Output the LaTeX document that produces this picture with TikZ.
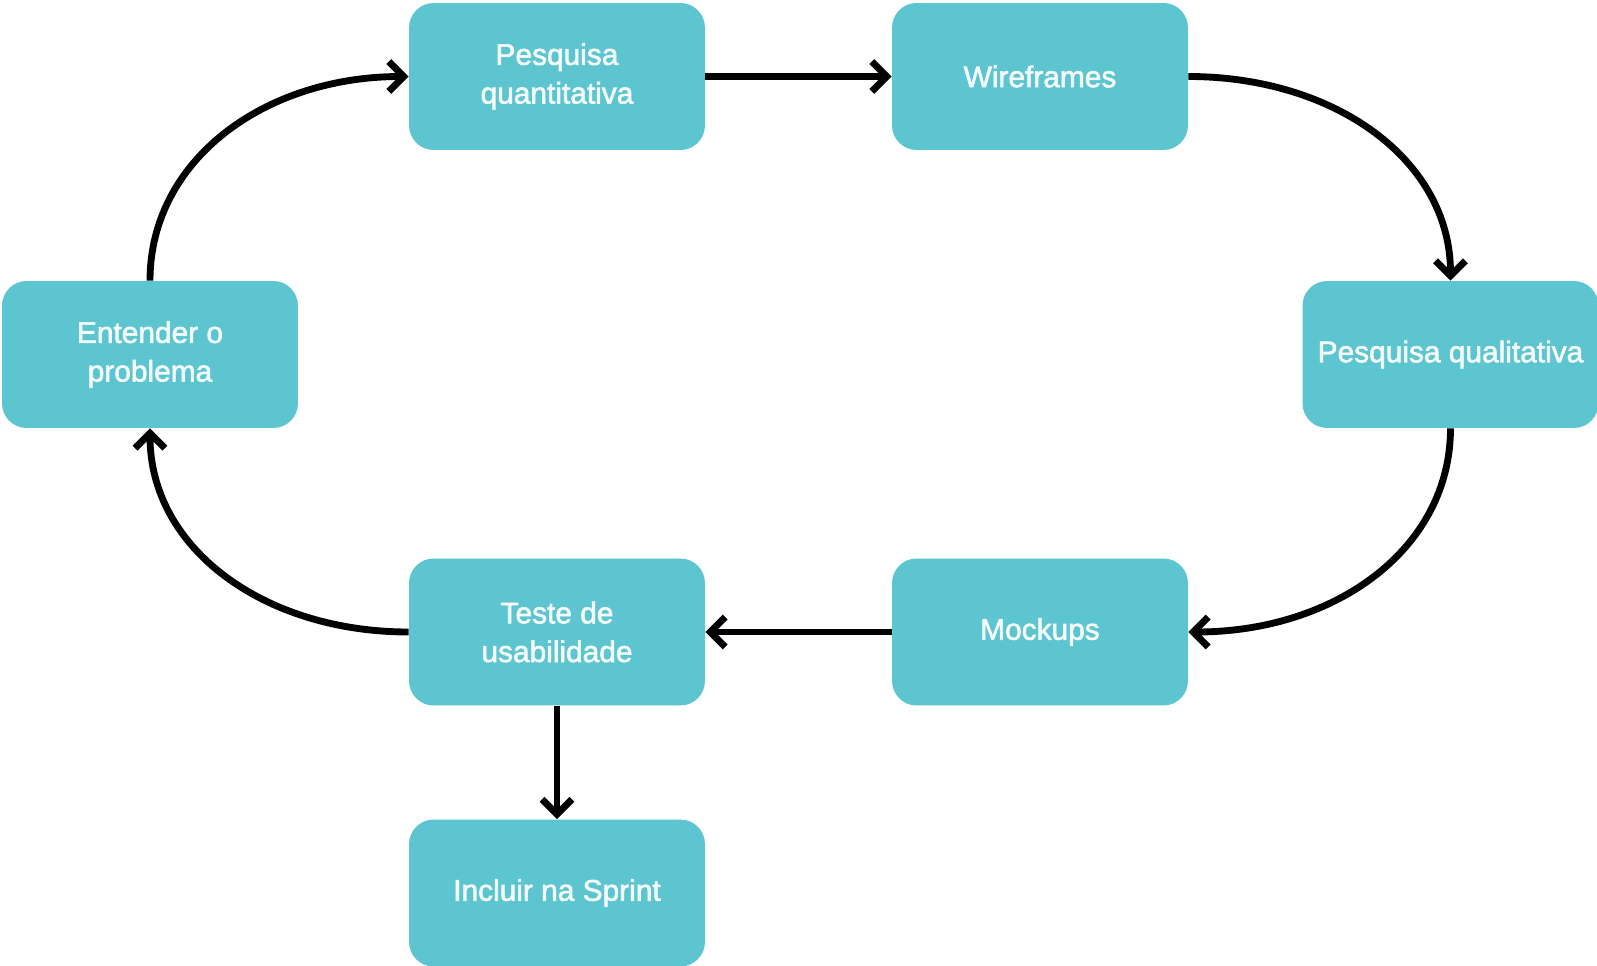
\documentclass[tikz,border=0pt]{standalone}
\usepackage{fontspec}
\setmainfont{Liberation Sans}[FakeBold=2]
\usetikzlibrary{arrows.meta}
\definecolor{boxteal}{HTML}{5CC5CF}
\definecolor{labelwhite}{HTML}{F4FBFC}
\tikzset{
  stepbox/.style={rectangle, rounded corners=14pt, fill=boxteal, draw=none,
    minimum width=5.92cm, minimum height=2.94cm, inner sep=0pt,
    text=labelwhite, align=center, font=\fontsize{17}{22}\selectfont},
  flow/.style={line width=3.9pt, draw=black,
    -{Straight Barb[length=8.5pt,width=17pt,line width=3.9pt]}}
}
\begin{document}
\begin{tikzpicture}[x=0.02cm, y=-0.02cm]
  \path[use as bounding box] (0,0) rectangle (1597,966);
  % process steps
  \node[stepbox] (pqn)  at (557,76.5)   {Pesquisa\\quantitativa};
  \node[stepbox] (wire) at (1040,76.5)  {Wireframes};
  \node[stepbox] (ent)  at (150,354.5)  {Entender o\\problema};
  \node[stepbox] (pql)  at (1450.5,354.5) {Pesquisa qualitativa};
  \node[stepbox] (mock) at (1040,632)   {Mockups};
  \node[stepbox] (test) at (557,632)    {Teste de\\usabilidade};
  \node[stepbox] (incl) at (557,893)    {Incluir na Sprint};
  % loop connectors
  \draw[flow] (ent.north) .. controls +(0,2.4cm) and +(-2.9cm,0) .. (pqn.west);
  \draw[flow] (pqn.east) -- (wire.west);
  \draw[flow] (wire.east) .. controls +(2.95cm,0) and +(0,2.4cm) .. (pql.north);
  \draw[flow] (pql.south) .. controls +(0,-2.4cm) and +(2.95cm,0) .. (mock.east);
  \draw[flow] (mock.west) -- (test.east);
  \draw[flow] (test.west) .. controls +(-2.9cm,0) and +(0,-2.4cm) .. (ent.south);
  \draw[flow] (test.south) -- (incl.north);
\end{tikzpicture}
\end{document}
